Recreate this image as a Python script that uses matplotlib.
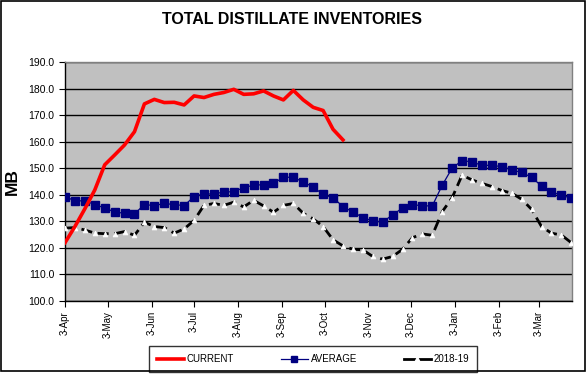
import matplotlib
matplotlib.use("Agg")
import matplotlib.pyplot as plt
from matplotlib.lines import Line2D
from matplotlib.patches import Rectangle
import numpy as np
import pandas as pd

plt.rcParams['font.family'] = ['Liberation Sans', 'DejaVu Sans']

dates = pd.date_range("2020-04-03", periods=52, freq="7D")

current = [121.9, 128.0, 134.7, 141.8, 151.3, 155.0, 158.8, 163.8, 174.3, 176.0,
           174.8, 174.9, 173.9, 177.3, 176.7, 177.9, 178.6, 179.8, 177.9, 178.1,
           179.2, 177.3, 175.8, 179.4, 175.8, 173.0, 171.8, 164.7, 160.7]

average = [139.3, 137.7, 137.7, 136.3, 135.0, 133.5, 133.0, 132.8, 136.3, 135.9,
           136.7, 136.3, 135.9, 139.3, 140.4, 140.2, 141.1, 141.1, 142.7, 143.6,
           143.8, 144.3, 146.6, 146.6, 144.8, 142.9, 140.1, 138.9, 135.5, 133.5,
           131.4, 130.1, 129.7, 132.4, 135.0, 136.3, 135.8, 135.8, 143.6, 150.1,
           152.9, 152.4, 151.1, 151.1, 150.6, 149.4, 148.4, 146.6, 143.3, 141.1,
           139.8, 138.7]

prior = [127.4, 127.6, 126.7, 125.5, 125.3, 125.3, 126.1, 124.7, 129.6, 128.0,
         127.6, 125.5, 127.1, 130.3, 136.0, 136.7, 136.0, 137.2, 135.4, 137.9,
         135.8, 133.4, 136.0, 136.7, 133.0, 130.9, 128.0, 123.0, 120.7, 119.4,
         119.2, 116.7, 115.7, 116.7, 119.4, 123.8, 125.2, 124.7, 133.6, 138.9,
         147.4, 145.6, 144.3, 143.1, 141.6, 140.6, 138.3, 134.5, 128.0, 125.5,
         124.8, 121.9]

tick_dates = pd.date_range("2020-04-01", periods=12, freq="MS") + pd.Timedelta(days=2)
tick_labels = ["3-Apr", "3-May", "3-Jun", "3-Jul", "3-Aug", "3-Sep", "3-Oct",
               "3-Nov", "3-Dec", "3-Jan", "3-Feb", "3-Mar"]

W, H = 588, 380
fig = plt.figure(figsize=(W / 100, H / 100), dpi=100)
fig.patch.set_facecolor("white")

ax = fig.add_axes([65 / W, 1 - 300.7 / H, (572 - 65) / W, (300.7 - 62.3) / H])
ax.set_facecolor("#C0C0C0")

ax.set_ylim(100, 190)
ax.set_yticks(np.arange(100, 191, 10))
ax.yaxis.set_major_formatter(matplotlib.ticker.FormatStrFormatter("%.1f"))
ax.grid(axis="y", color="black", linewidth=1.0)
ax.set_axisbelow(True)

ax.plot(dates[:len(current)], current, color="#FF0000", linewidth=2.6, zorder=5)
ax.plot(dates, average, color="#000080", linewidth=0.9, marker="s",
        markersize=6, markerfacecolor="#000080", markeredgecolor="#000080", zorder=4)
ax.plot(dates, prior, color="black", linewidth=2.0, linestyle=(0, (4, 2)),
        marker="^", markersize=3.5, markerfacecolor="white",
        markeredgecolor="white", markeredgewidth=0.5, zorder=3)

ax.set_xlim(dates[0], dates[-1] + pd.Timedelta(days=0.5))
ax.set_xticks(tick_dates)
ax.set_xticklabels(tick_labels, rotation=90, fontsize=7)
ax.tick_params(axis="y", labelsize=7.5, length=4, color="black")
ax.tick_params(axis="x", length=4, color="black")

for s in ax.spines.values():
    s.set_color("#808080")
    s.set_linewidth(1.0)
ax.spines["left"].set_color("black")
ax.spines["bottom"].set_color("black")

ax.set_ylabel("MB", fontsize=12.5, fontweight="bold", labelpad=6)
fig.text(292 / W, 1 - 20 / H, "TOTAL DISTILLATE INVENTORIES", ha="center",
         va="center", fontsize=11.5, fontweight="bold")

handles = [
    Line2D([], [], color="#FF0000", linewidth=2.6),
    Line2D([], [], color="#000080", linewidth=0.9, marker="s", markersize=4),
    Line2D([], [], color="black", linewidth=2.0, marker="^", markersize=3.5,
           markerfacecolor="white", markeredgecolor="white"),
]
leg = fig.legend(handles, ["CURRENT", "AVERAGE", "2018-19"], ncol=3,
                 loc="center", bbox_to_anchor=(313 / W, 1 - 359 / H),
                 fontsize=7, frameon=True, fancybox=False, edgecolor="black",
                 handlelength=2.8, columnspacing=4.8, handletextpad=0.3,
                 borderpad=0.8, borderaxespad=0)
leg.get_frame().set_linewidth(1.0)

fig.patches.append(Rectangle((1 / W, 1 - 371 / H), 584 / W, 370 / H,
                             transform=fig.transFigure, fill=False,
                             edgecolor="black", linewidth=1.2, zorder=10))

fig.savefig("out.png", dpi=100)
